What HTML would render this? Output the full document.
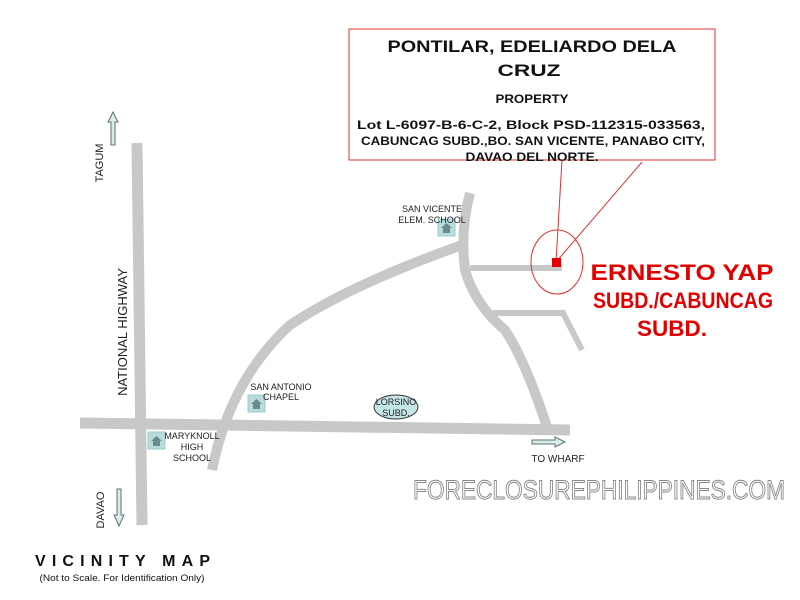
<!DOCTYPE html>
<html><head><style>
body{margin:0;background:#fff;}
svg{display:block;font-family:"Liberation Sans",sans-serif;}
</style></head><body>
<svg width="800" height="600" viewBox="0 0 800 600">
<g fill="none" stroke="#c8c8c8" stroke-linecap="butt">
<path d="M137 143 L142 525" stroke-width="11"/>
<path d="M80 423 L570 430" stroke-width="11"/>
<path d="M212 470 Q230 380 290 325 Q350 285 462 245" stroke-width="10"/>
<path d="M470 193 Q460 230 465 270 Q475 305 505 330 Q525 360 547 427" stroke-width="10"/>
<path d="M470 268 L562 268" stroke-width="6"/>
<path d="M493 313 L563 313 L582 350" stroke-width="6"/>
</g>
<g fill="#d8ecec" stroke="#607070" stroke-width="1">
<path d="M111 145 L111 122 L108 122 L113 112 L118 122 L115 122 L115 145 Z"/>
<path d="M117 489 L117 515 L114 515 L119 526 L124 515 L121 515 L121 489 Z"/>
<path d="M532 440 L555 440 L555 437 L565 442 L555 447 L555 444 L532 444 Z"/>
</g>
<g>
<rect x="148" y="432" width="17" height="17" fill="#b8dcdc" stroke="#9cc" stroke-width="1"/>
<path d="M151 441 L156.5 436 L162 441 L160 441 L160 446 L153 446 L153 441Z" fill="#6a8a8a"/>
<rect x="248" y="395" width="17" height="17" fill="#b8dcdc" stroke="#9cc" stroke-width="1"/>
<path d="M251 404 L256.5 399 L262 404 L260 404 L260 409 L253 409 L253 404Z" fill="#6a8a8a"/>
<rect x="438" y="219" width="17" height="17" fill="#b8dcdc" stroke="#9cc" stroke-width="1"/>
<path d="M441 228 L446.5 223 L452 228 L450 228 L450 233 L443 233 L443 228Z" fill="#6a8a8a"/>
</g>
<ellipse cx="396" cy="407" rx="22" ry="12" fill="#c4e6e6" stroke="#333" stroke-width="1"/>
<g font-size="9" fill="#222" text-anchor="middle">
<text x="396" y="405">LORSINO</text><text x="396" y="416">SUBD.</text>
<text x="192" y="439">MARYKNOLL</text><text x="192" y="450">HIGH</text><text x="192" y="461">SCHOOL</text>
<text x="281" y="390">SAN ANTONIO</text><text x="281" y="400">CHAPEL</text>
<text x="432" y="212">SAN VICENTE</text><text x="432" y="223">ELEM. SCHOOL</text>
<text x="558" y="462" font-size="10">TO WHARF</text>
</g>
<g font-size="11" fill="#222" text-anchor="middle">
<text transform="translate(103 163) rotate(-90)">TAGUM</text>
<text transform="translate(104 510) rotate(-90)">DAVAO</text>
<text transform="translate(127 332) rotate(-90)" font-size="13">NATIONAL HIGHWAY</text>
</g>
<rect x="349" y="29" width="366" height="131" fill="#fff" stroke="#e03030" stroke-width="1"/>
<g fill="#111" font-weight="bold" text-anchor="middle" lengthAdjust="spacingAndGlyphs">
<text x="532" y="52" font-size="17" textLength="289" lengthAdjust="spacingAndGlyphs">PONTILAR, EDELIARDO DELA</text>
<text x="529" y="76" font-size="17" textLength="63" lengthAdjust="spacingAndGlyphs">CRUZ</text>
<text x="532" y="103" font-size="12" textLength="73" lengthAdjust="spacingAndGlyphs">PROPERTY</text>
<text x="531" y="129" font-size="12" textLength="348" lengthAdjust="spacingAndGlyphs">Lot L-6097-B-6-C-2, Block PSD-112315-033563,</text>
<text x="533" y="145" font-size="12" textLength="344" lengthAdjust="spacingAndGlyphs">CABUNCAG SUBD.,BO. SAN VICENTE, PANABO CITY,</text>
<text x="532" y="161" font-size="12" textLength="133" lengthAdjust="spacingAndGlyphs">DAVAO DEL NORTE.</text>
</g>
<g stroke="#e03030" stroke-width="1" fill="none">
<line x1="562" y1="160" x2="556" y2="262"/>
<line x1="642" y1="162" x2="556" y2="262"/>
<ellipse cx="557" cy="262" rx="26" ry="32"/>
</g>
<rect x="552" y="258" width="9" height="9" fill="#e00000"/>
<g fill="#e00000" font-weight="bold" font-size="22" text-anchor="middle">
<text x="682" y="280" textLength="183" lengthAdjust="spacingAndGlyphs">ERNESTO YAP</text>
<text x="683" y="308" textLength="180" lengthAdjust="spacingAndGlyphs">SUBD./CABUNCAG</text>
<text x="672" y="336" textLength="70" lengthAdjust="spacingAndGlyphs">SUBD.</text>
</g>
<text x="599" y="499" font-size="27" fill="#fff" stroke="#888" stroke-width="1" text-anchor="middle" textLength="372" lengthAdjust="spacingAndGlyphs">FORECLOSUREPHILIPPINES.COM</text>
<text x="35" y="566" font-size="16" font-weight="bold" fill="#111" textLength="175" lengthAdjust="spacing">VICINITY MAP</text>
<text x="122" y="581" font-size="9" fill="#111" text-anchor="middle" textLength="165" lengthAdjust="spacingAndGlyphs">(Not to Scale. For Identification Only)</text>
</svg>
</body></html>
